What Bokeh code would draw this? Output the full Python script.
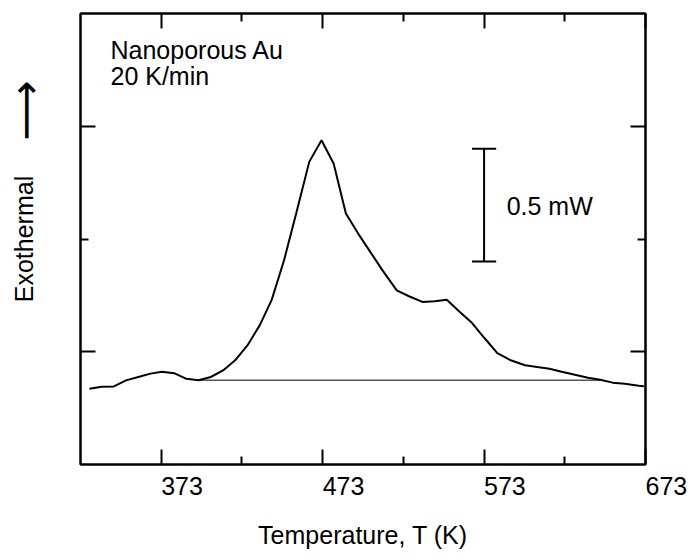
import math
from bokeh.plotting import figure
from bokeh.models import Label, LinearAxis, FixedTicker, Range1d
from bokeh.embed import file_html
from bokeh.resources import INLINE

# ---- data ----
temperature = [328.5, 336.1, 343.7, 351.2, 358.8, 366.4, 373.4, 381.0, 388.6, 396.1,
               403.7, 411.3, 418.8, 426.4, 434.0, 441.5, 449.1, 456.6, 464.7, 472.3,
               479.8, 487.4, 495.0, 502.5, 510.1, 518.9, 526.5, 534.8, 542.4, 549.9,
               558.0, 565.6, 573.1, 581.2, 589.5, 598.4, 605.9, 613.5, 621.1, 629.9,
               637.4, 645.0, 652.6, 660.1, 668.9, 672.0]
heat_flow = [0.336, 0.345, 0.346, 0.373, 0.388, 0.403, 0.411, 0.405, 0.380, 0.374,
             0.388, 0.417, 0.462, 0.528, 0.617, 0.731, 0.906, 1.113, 1.342, 1.438,
             1.335, 1.113, 1.024, 0.943, 0.861, 0.772, 0.746, 0.721, 0.724, 0.731,
             0.676, 0.627, 0.562, 0.494, 0.462, 0.440, 0.432, 0.425, 0.411, 0.397,
             0.385, 0.376, 0.363, 0.358, 0.349, 0.347]
baseline_T = [396.0, 645.0]
baseline_P = [0.374, 0.374]
scalebar_T = 573.0
scalebar_P = [0.9, 1.4]
scalebar_cap_halfwidth = 7.5
x_major_ticks = [373, 473, 573, 673]
x_minor_ticks = [423, 523, 623]
y_major_ticks = [0.5, 1.5]
y_minor_ticks = [1.0]

X0, X1 = 323, 673
Y0, Y1 = 0.0, 2.0
W, H = 699, 558
BL, BR, BT, BB = 80, 54, 13, 94
FL, FR, FT, FB = BL, W - BR, BT, H - BB

def dx(px):
    return X0 + (px - FL) * (X1 - X0) / (FR - FL)

def dy(py):
    return Y0 + (FB - py) * (Y1 - Y0) / (FB - FT)

FONT = "Liberation Sans"
FS = "25px"
SHIFT = 7  # empirical offset of Label alphabetic baseline

p = figure(width=W, height=H, x_range=Range1d(X0, X1), y_range=Range1d(Y0, Y1),
           output_backend="svg", toolbar_location=None,
           min_border_left=BL, min_border_right=BR, min_border_top=BT, min_border_bottom=BB)
p.grid.visible = False
p.outline_line_color = "black"
p.outline_line_width = 2
p.background_fill_color = "white"
p.border_fill_color = "white"

p.add_layout(LinearAxis(), "above")
p.add_layout(LinearAxis(), "right")

for ax in p.xaxis:
    ax.ticker = FixedTicker(ticks=x_major_ticks, minor_ticks=x_minor_ticks)
for ax in p.yaxis:
    ax.ticker = FixedTicker(ticks=y_major_ticks, minor_ticks=y_minor_ticks)
for ax in p.axis:
    ax.axis_line_width = 2
    ax.axis_line_color = "black"
    ax.major_tick_line_width = 2
    ax.minor_tick_line_width = 2
    ax.major_tick_line_color = "black"
    ax.minor_tick_line_color = "black"
    ax.major_tick_in = 15
    ax.major_tick_out = 0
    ax.minor_tick_in = 8
    ax.minor_tick_out = 0
    ax.axis_label = None

# hide tick labels on all axes except the bottom one
for ax in [p.above[0], p.right[0], p.left[0]]:
    ax.major_label_text_color = None
    ax.major_label_text_font_size = "1px"
    ax.major_label_standoff = 0

# bottom axis: labels left-aligned at ticks (tiny negative orientation)
xb = p.below[0]
xb.major_label_orientation = -0.0001
xb.major_label_text_font = FONT
xb.major_label_text_font_size = FS
xb.major_label_text_color = "black"
xb.major_label_standoff = 21
xb.axis_label = "Temperature, T (K)"
xb.axis_label_text_font = FONT
xb.axis_label_text_font_size = FS
xb.axis_label_text_font_style = "normal"
xb.axis_label_text_color = "black"
xb.axis_label_standoff = 14

# curve and baseline
p.line(temperature, heat_flow, line_color="black", line_width=2)
p.line(baseline_T, baseline_P, line_color="black", line_width=1)

# scale bar
p.segment(x0=[scalebar_T], y0=[scalebar_P[0]], x1=[scalebar_T], y1=[scalebar_P[1]],
          line_color="black", line_width=2)
p.segment(x0=[scalebar_T - scalebar_cap_halfwidth] * 2, y0=scalebar_P,
          x1=[scalebar_T + scalebar_cap_halfwidth] * 2, y1=scalebar_P,
          line_color="black", line_width=2)

def add_label(text, x, y, place="center", align="left", baseline="alphabetic",
              angle=0.0, style="normal", font=FONT, size=FS):
    lab = Label(text=text, x=x, y=y, text_align=align, text_baseline=baseline,
                angle=angle, text_font=font, text_font_size=size,
                text_font_style=style, text_color="black")
    if place == "center":
        p.add_layout(lab)
    else:
        p.add_layout(lab, place)

# y label and arrow (in side panels so they are not clipped)
add_label("Exothermal", dx(30 - SHIFT), dy((FT + FB) / 2), place="left", align="center",
          angle=math.pi / 2)
add_label("\u27F6", dx(25), dy(110), place="right", align="center", baseline="middle",
          angle=math.pi / 2, font="DejaVu Sans", size="42px")

# annotations
add_label("Nanoporous Au", dx(110), dy(56 - SHIFT))
add_label("20 K/min", dx(110), dy(82 - SHIFT))
add_label("0.5 mW", scalebar_T + 14.0, dy(212 - SHIFT))

open("out.html", "w").write(file_html(p, INLINE))
